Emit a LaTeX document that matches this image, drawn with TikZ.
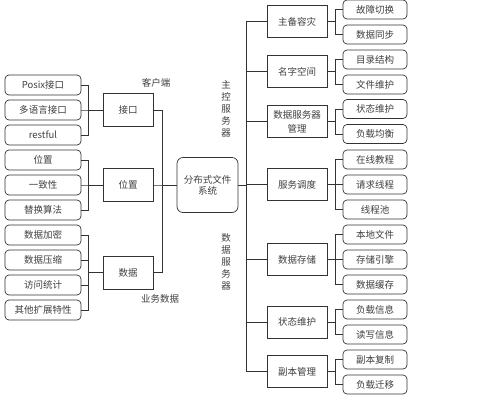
\documentclass[tikz,border=0pt]{standalone}
\usepackage{fontspec}
\setmainfont{Noto Sans CJK SC}
\begin{document}
\begin{tikzpicture}[x=1pt,y=-1pt,
  every node/.style={font=\fontsize{9.5}{11}\selectfont, text=black!75, inner sep=0pt},
  leaf/.style={draw=black!80, line width=0.7pt, rounded corners=4pt, minimum width=76pt, minimum height=20pt},
  rleaf/.style={draw=black!80, line width=0.7pt, rounded corners=4pt, minimum width=64pt, minimum height=19pt},
  midbox/.style={draw=black!80, line width=0.7pt, minimum width=50pt, minimum height=33pt},
  rbox/.style={draw=black!80, line width=0.7pt, minimum width=60pt, minimum height=32pt, align=center},
  conn/.style={draw=black!80, line width=0.7pt},
  vlabel/.style={align=center, font=\fontsize{9.5}{12}\selectfont}]
\useasboundingbox (0,0) rectangle (500,400);
\fill[white] (0,0) rectangle (500,400);
% left leaves
\node[leaf] (L1) at (43,85) {Posix接口};
\node[leaf] (L2) at (43,110) {多语言接口};
\node[leaf] (L3) at (43,135) {restful};
\node[leaf] (L4) at (43,160) {位置};
\node[leaf] (L5) at (43,185) {一致性};
\node[leaf] (L6) at (43,210) {替换算法};
\node[leaf] (L7) at (43,235) {数据加密};
\node[leaf] (L8) at (43,260) {数据压缩};
\node[leaf] (L9) at (43,285) {访问统计};
\node[leaf] (L10) at (43,310) {其他扩展特性};
% middle boxes
\node[midbox] (M1) at (128,110) {接口};
\node[midbox] (M2) at (128,185) {位置};
\node[midbox] (M3) at (128,272.5) {数据};
% center
\node[draw=black!80, line width=0.7pt, rounded corners=6pt, minimum width=61pt, minimum height=55pt, align=center] (C) at (207.5,185) {分布式文件\\系统};
% labels
\node (lk) at (156,83) {客户端};
\node (lb) at (160,299) {业务数据};
\node[vlabel] (vz) at (226,109) {主\\控\\服\\务\\器};
\node[vlabel] (vs) at (226,262) {数\\据\\服\\务\\器};
% right boxes
\node[rbox] (R1) at (297,21.5) {主备容灾};
\node[rbox] (R2) at (297,71.5) {名字空间};
\node[rbox, font=\fontsize{9.5}{14}\selectfont] (R3) at (297,121.5) {数据服务器\\管理};
\node[rbox] (R4) at (297,184.5) {服务调度};
\node[rbox] (R5) at (297,259.5) {数据存储};
\node[rbox] (R6) at (297,322) {状态维护};
\node[rbox] (R7) at (297,371.5) {副本管理};
% right leaves
\node[rleaf] (Q1) at (375,9.5) {故障切换};
\node[rleaf] (Q2) at (375,34.5) {数据同步};
\node[rleaf] (Q3) at (375,59.5) {目录结构};
\node[rleaf] (Q4) at (375,84.5) {文件维护};
\node[rleaf] (Q5) at (375,109) {状态维护};
\node[rleaf] (Q6) at (375,134) {负载均衡};
\node[rleaf] (Q7) at (375,159.5) {在线教程};
\node[rleaf] (Q8) at (375,184.5) {请求线程};
\node[rleaf] (Q9) at (375,209.5) {线程池};
\node[rleaf] (Q10) at (375,234.5) {本地文件};
\node[rleaf] (Q11) at (375,259.5) {存储引擎};
\node[rleaf] (Q12) at (375,284.5) {数据缓存};
\node[rleaf] (Q13) at (375,309.5) {负载信息};
\node[rleaf] (Q14) at (375,334.5) {读写信息};
\node[rleaf] (Q15) at (375,359.5) {副本复制};
\node[rleaf] (Q16) at (375,384.5) {负载迁移};
% left connectors
\foreach \l in {L1,L2,L3} \draw[conn] (\l.east) -- ++(7,0) |- (M1.west);
\foreach \l in {L4,L5,L6} \draw[conn] (\l.east) -- ++(7,0) |- (M2.west);
\foreach \l in {L7,L8,L9,L10} \draw[conn] (\l.east) -- ++(7,0) |- (M3.west);
\foreach \m in {M1,M2,M3} \draw[conn] (\m.east) -- ++(9,0) |- (C.west);
% right connectors
\foreach \r in {R1,R2,R3,R4,R5,R6,R7} \draw[conn] (\r.west) -- ++(-20,0) |- (C.east);
\foreach \q in {Q1,Q2} \draw[conn] (\q.west) -- ++(-7,0) |- (R1.east);
\foreach \q in {Q3,Q4} \draw[conn] (\q.west) -- ++(-7,0) |- (R2.east);
\foreach \q in {Q5,Q6} \draw[conn] (\q.west) -- ++(-7,0) |- (R3.east);
\foreach \q in {Q7,Q8,Q9} \draw[conn] (\q.west) -- ++(-7,0) |- (R4.east);
\foreach \q in {Q10,Q11,Q12} \draw[conn] (\q.west) -- ++(-7,0) |- (R5.east);
\foreach \q in {Q13,Q14} \draw[conn] (\q.west) -- ++(-7,0) |- (R6.east);
\foreach \q in {Q15,Q16} \draw[conn] (\q.west) -- ++(-7,0) |- (R7.east);
\end{tikzpicture}
\end{document}
